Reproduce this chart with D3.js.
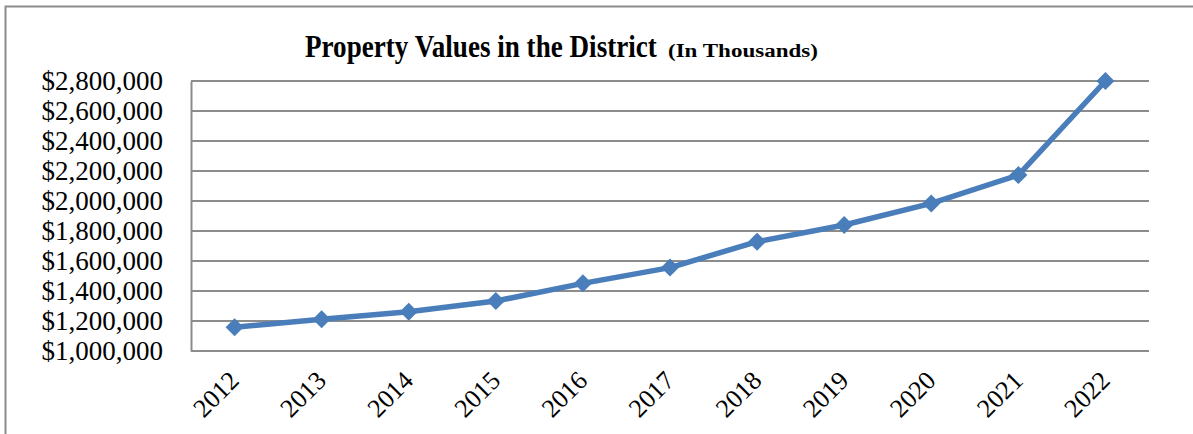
<!DOCTYPE html>
<html>
<head>
<meta charset="utf-8">
<script src="https://cdn.jsdelivr.net/npm/d3@7"></script>
<style>
  body { margin: 0; background: #fff; }
  svg text { font-family: "Liberation Serif", "Times New Roman", serif; fill: #000; }
</style>
</head>
<body>
<svg class="chart"></svg>
<script>
var years = ["2012", "2013", "2014", "2015", "2016", "2017", "2018", "2019", "2020", "2021", "2022"];
var values = [1158000, 1211000, 1262000, 1333000, 1451000, 1556000, 1729000, 1840000, 1984000, 2173000, 2800000];
var yTicks = [1000000, 1200000, 1400000, 1600000, 1800000, 2000000, 2200000, 2400000, 2600000, 2800000];

var width = 1193, height = 434;
var margin = {top: 81, right: 44, bottom: 83, left: 191};
var chartWidth = width - margin.left - margin.right;
var chartHeight = height - margin.top - margin.bottom;

var svg = d3.select(".chart").attr("width", width).attr("height", height);

// outer frame
svg.append("rect")
  .attr("x", 5.5).attr("y", 6.5)
  .attr("width", 1200).attr("height", 440)
  .attr("fill", "none").attr("stroke", "#8c8c8c").attr("stroke-width", 2);

// title - the original is squeezed horizontally, so scale each part to its width
function squeezedText(str, left, size, w) {
  var t = svg.append("text")
    .attr("font-size", size).attr("font-weight", "bold")
    .text(str);
  var natural = t.node().getComputedTextLength();
  t.attr("transform", "translate(" + left + ",57) scale(" + (w / natural) + ",1)");
  return t;
}
squeezedText("Property  Values in the District", 305, 31, 352);
squeezedText("(In Thousands)", 668, 19, 150);

var chart = svg.append("g").attr("transform", "translate(" + margin.left + "," + margin.top + ")");

var x = d3.scaleBand().domain(years).range([0, chartWidth]);
var y = d3.scaleLinear().domain([1000000, 2800000]).range([chartHeight, 0]);
var fmt = d3.format("$,");

// gridlines
chart.append("g")
  .selectAll("line")
  .data(yTicks)
  .enter().append("line")
  .attr("x1", 0).attr("x2", chartWidth)
  .attr("y1", function(d) { return y(d); })
  .attr("y2", function(d) { return y(d); })
  .attr("stroke", "#8c8c8c").attr("stroke-width", 2);

// y axis
var yAxis = chart.append("g")
  .call(d3.axisLeft(y).tickValues(yTicks).tickFormat(fmt).tickSize(0).tickPadding(28));
yAxis.select(".domain").attr("stroke", "#8c8c8c").attr("stroke-width", 2);
yAxis.selectAll("text")
  .attr("font-size", 27)
  .style("font-family", '"Liberation Serif", "Times New Roman", serif')
  .attr("fill", "#000");

// x axis labels
var xAxis = chart.append("g")
  .attr("transform", "translate(0," + chartHeight + ")")
  .call(d3.axisBottom(x).tickSize(0));
xAxis.select(".domain").remove();
xAxis.selectAll("text")
  .attr("font-size", 26)
  .style("font-family", '"Liberation Serif", "Times New Roman", serif')
  .attr("fill", "#000")
  .style("text-anchor", "end")
  .attr("x", 0).attr("y", 0).attr("dy", 0)
  .attr("transform", "translate(6,31) rotate(-45)");

// line
var valueLine = d3.line()
  .x(function(d, i) { return x(years[i]) + x.bandwidth() / 2; })
  .y(function(d) { return y(d); });

chart.append("path")
  .datum(values)
  .attr("fill", "none")
  .attr("stroke", "#4a7ebb")
  .attr("stroke-width", 5.5)
  .attr("stroke-linejoin", "round")
  .attr("d", valueLine);

chart.selectAll(".marker")
  .data(values)
  .enter().append("path")
  .attr("class", "marker")
  .attr("d", "M0,-9L9,0L0,9L-9,0Z")
  .attr("fill", "#4a7ebb")
  .attr("transform", function(d, i) {
    return "translate(" + (x(years[i]) + x.bandwidth() / 2) + "," + y(d) + ")";
  });
</script>
</body>
</html>
